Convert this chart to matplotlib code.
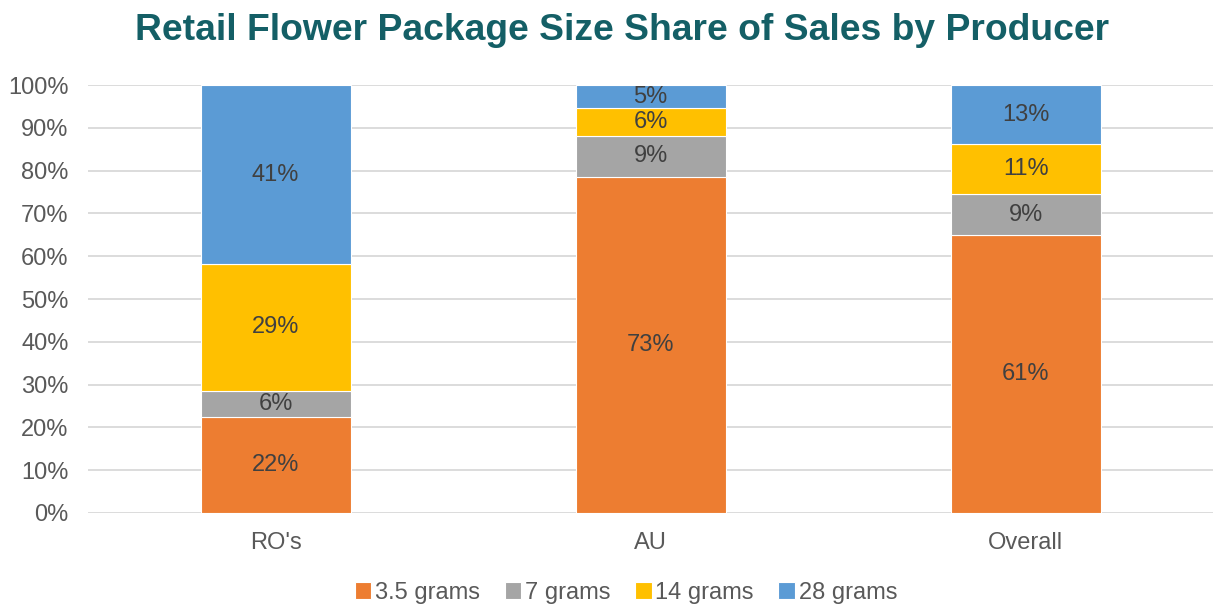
import numpy as np
import matplotlib.pyplot as plt

# categories and the shares printed on each segment (bars are normalised to 100%)
producers = ["RO's", "AU", "Overall"]
sizes = ['3.5 grams', '7 grams', '14 grams', '28 grams']
share_35 = [22, 73, 61]
share_7 = [6, 9, 9]
share_14 = [29, 6, 11]
share_28 = [41, 5, 13]

colors = ['#ED7D31', '#A5A5A5', '#FFC000', '#5B9BD5']

plt.rcParams['font.family'] = ['Liberation Sans', 'DejaVu Sans']

fig = plt.figure(figsize=(12.14, 6.06), dpi=100)
ax = fig.add_axes([0.0725, 0.1535, 0.927, 0.7062])

data = np.array([share_35, share_7, share_14, share_28], dtype=float)
totals = data.sum(axis=0)
x = np.arange(len(producers))
bottom = np.zeros(len(producers))

for vals, lbl, color in zip(data, sizes, colors):
    h = vals / totals
    ax.bar(x, h, 0.4, bottom=bottom, color=color, label=lbl,
           edgecolor='white', linewidth=0.8, zorder=3)
    # data labels in the middle of each segment
    for xi, b, hi, v in zip(x, bottom, h, vals):
        ax.text(xi, b + hi / 2, '%d%%' % v, ha='center', va='center',
                fontsize=17, color='#404040', zorder=4)
    bottom += h

ax.set_xlim(-0.5, 2.5)
ax.set_ylim(0, 1)
ax.set_yticks(np.arange(0, 1.01, 0.1))
ax.set_yticklabels(['%d%%' % (v * 100) for v in np.arange(0, 1.01, 0.1)])
ax.set_xticks(x)
ax.set_xticklabels(producers)
ax.tick_params(axis='both', length=0, labelsize=17, colors='#595959')
ax.tick_params(axis='x', pad=14)
ax.tick_params(axis='y', pad=14)
ax.grid(axis='y', color='#D9D9D9', linewidth=1.3, zorder=0)
for s in ax.spines.values():
    s.set_visible(False)

fig.suptitle('Retail Flower Package Size Share of Sales by Producer',
             fontsize=26.8, fontweight='bold', color='#145F66', x=0.512,
             y=0.978, va='top')

ax.legend(loc='center', bbox_to_anchor=(0.478, -0.187), ncol=4, frameon=False,
          fontsize=17, handlelength=0.7, handleheight=0.7, handletextpad=0.15,
          columnspacing=1.05, labelcolor='#595959')

fig.savefig('out.png', dpi=100)
